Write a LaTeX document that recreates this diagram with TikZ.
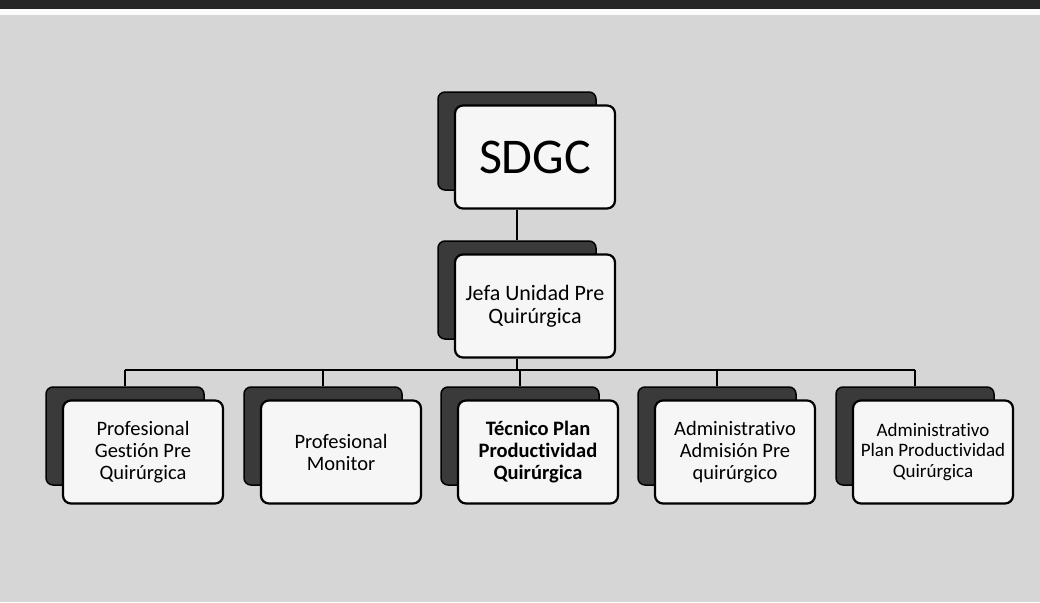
\documentclass[tikz,border=0pt]{standalone}
\usepackage{fontspec}
\setmainfont{Carlito}[Ligatures=NoCommon]
\definecolor{fondo}{RGB}{214,214,214}
\definecolor{sombra}{RGB}{58,58,58}
\definecolor{tarjeta}{RGB}{246,246,246}
\tikzset{
  atras/.style={draw=black, line width=1.5pt, fill=sombra, rounded corners=7pt,
    minimum width=158pt, minimum height=98pt},
  frente/.style={draw=black, line width=2.2pt, fill=tarjeta, rounded corners=8pt,
    minimum width=160pt, minimum height=103pt, inner sep=0pt, align=center,
    font=\fontsize{20.5}{22}\selectfont},
  linea/.style={line width=1.5pt}
}

\begin{document}
\begin{tikzpicture}[x=1pt,y=-1pt]
\useasboundingbox (0,0) rectangle (1040,602);
\fill [fondo] (0,0) rectangle (1040,602);
\fill [black!85] (0,0) rectangle (1040,9);
\fill [white!90!fondo] (0,9) rectangle (1040,15);

\node [atras] (sdgcb) at (517,141) {};
\node [frente, font=\fontsize{50}{54}\selectfont] (sdgc) at (535,157) {SDGC};

\node [atras] (jefab) at (517,290) {};
\node [frente, font=\fontsize{22}{22.5}\selectfont] (jefa) at (535,306) {Jefa Unidad Pre\\Quirúrgica};

\node [atras] (b1) at (125,436) {};
\node [frente] (f1) at (143,452) {Profesional\\Gestión Pre\\Quirúrgica};
\node [atras] (b2) at (323,436) {};
\node [frente] (f2) at (341,452) {Profesional\\Monitor};
\node [atras] (b3) at (520,436) {};
\node [frente, font=\fontsize{20.5}{22}\selectfont\bfseries] (f3) at (538,452) {Técnico Plan\\Productividad\\Quirúrgica};
\node [atras] (b4) at (717,436) {};
\node [frente] (f4) at (735,452) {Administrativo\\Admisión Pre\\quirúrgico};
\node [atras] (b5) at (915,436) {};
\node [frente, font=\fontsize{19}{20.5}\selectfont] (f5) at (933,452) {Administrativo\\Plan Productividad\\Quirúrgica};

\coordinate (bus) at (517,370);
\draw [linea] (sdgc.south -| sdgcb) -- (jefab.north);
\draw [linea] (jefa.south -| jefab) -- (bus);
\draw [linea] (b1.north |- bus) -- (b5.north |- bus);
\foreach \i in {1,...,5}
  \draw [linea] (b\i.north |- bus) -- (b\i.north);

\end{tikzpicture}
\end{document}
